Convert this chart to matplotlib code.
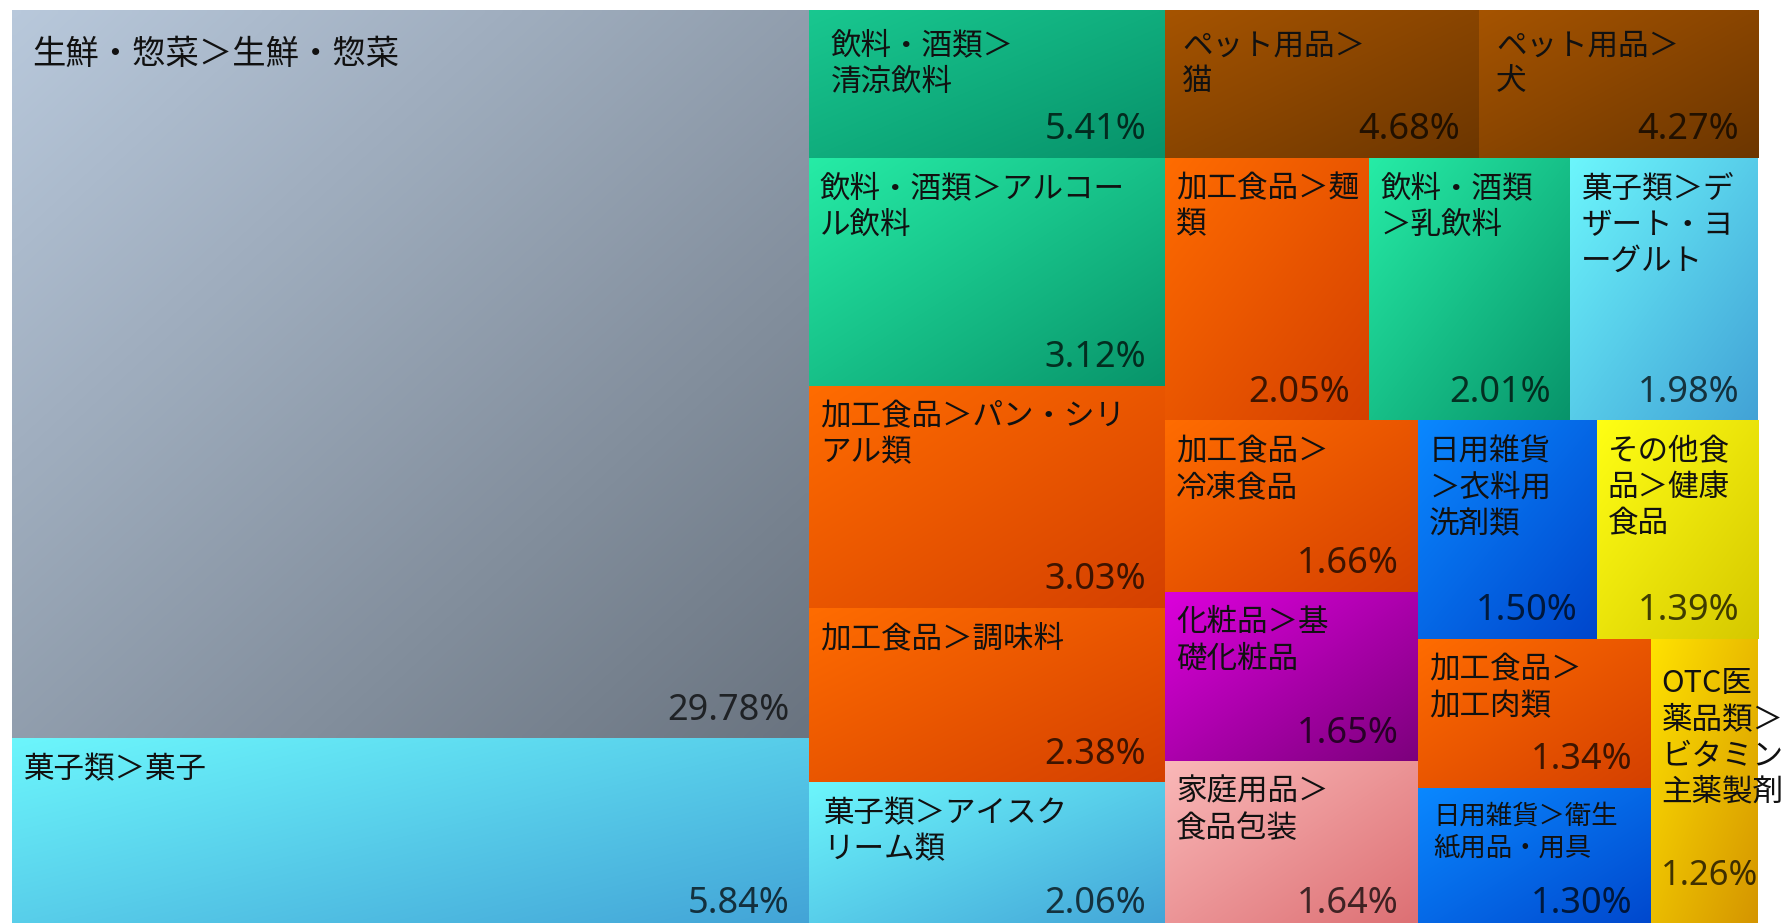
import numpy as np
import matplotlib.pyplot as plt
from matplotlib.colors import LinearSegmentedColormap

plt.rcParams['font.family'] = ['Noto Sans CJK JP', 'DejaVu Sans']

# tile captions (line breaks as wrapped inside each tile)
labels = [
    '生鮮・惣菜＞生鮮・惣菜',
    '菓子類＞菓子',
    '飲料・酒類＞\n清涼飲料',
    'ペット用品＞\n猫',
    'ペット用品＞\n犬',
    '飲料・酒類＞アルコー\nル飲料',
    '加工食品＞パン・シリ\nアル類',
    '加工食品＞調味料',
    '菓子類＞アイスク\nリーム類',
    '加工食品＞麺\n類',
    '飲料・酒類\n＞乳飲料',
    '菓子類＞デ\nザート・ヨ\nーグルト',
    '加工食品＞\n冷凍食品',
    '化粧品＞基\n礎化粧品',
    '家庭用品＞\n食品包装',
    '日用雑貨\n＞衣料用\n洗剤類',
    'その他食\n品＞健康\n食品',
    '加工食品＞\n加工肉類',
    '日用雑貨＞衛生\n紙用品・用具',
    'OTC医\n薬品類＞\nビタミン\n主薬製剤',
]
share = [29.78, 5.84, 5.41, 4.68, 4.27, 3.12, 3.03, 2.38, 2.06, 2.05,
         2.01, 1.98, 1.66, 1.65, 1.64, 1.50, 1.39, 1.34, 1.30, 1.26]
# relative tile areas
tile_size = [581, 154, 52.9, 46.5, 41.4, 81.2, 79.1, 62.3, 53.2, 53.6,
             52.8, 49.4, 43.3, 42.9, 43.1, 39.1, 35.2, 34.7, 33.6, 31.2]
# strips of the squarified layout: (direction, number of tiles)
strips = [('col', 2), ('row', 3), ('col', 4), ('row', 3),
          ('col', 3), ('row', 2), ('col', 2), ('col', 1)]

palette = {
    '生鮮・惣菜': ('#b8c8db', '#6a7480'),
    '菓子類': ('#6cf6fc', '#42a2d6'),
    '飲料・酒類': ('#26eca6', '#08946a'),
    'ペット用品': ('#a65400', '#6c3600'),
    '加工食品': ('#ff6c00', '#d44000'),
    '日用雑貨': ('#0a88ff', '#0046cc'),
    'その他食品': ('#ffff14', '#d6c800'),
    '化粧品': ('#dc00dc', '#7c007c'),
    '家庭用品': ('#fab8b8', '#dc6e72'),
    'OTC医薬品類': ('#ffe200', '#d49400'),
}
tile_colors = {2: ('#19c890', '#07926a')}

# caption offsets (px from the tile's top-left corner, to first line centre)
name_pad = {0: (20, 44), 2: (22, 36), 3: (17, 36), 4: (17, 36),
            8: (14, 31), 19: (10, 44), 18: (15, 28)}
name_size = {0: 24, 18: 19}
value_pad = {19: (10, 56)}


def layout(sizes, strips, x, y, w, h):
    rects = []
    rest = sum(sizes)
    i = 0
    for direction, n in strips:
        chunk = sizes[i:i + n]
        s = sum(chunk)
        if direction == 'col':
            sw = w * s / rest
            yy = y
            for v in chunk:
                hh = h * v / s
                rects.append((x, yy, sw, hh))
                yy += hh
            x += sw
            w -= sw
        else:
            sh = h * s / rest
            xx = x
            for v in chunk:
                ww = w * v / s
                rects.append((xx, y, ww, sh))
                xx += ww
            y += sh
            h -= sh
        rest -= s
        i += n
    return rects


W, H = 1746, 922
fig = plt.figure(figsize=(17.91, 9.23), dpi=100)
ax = fig.add_axes([12 / 1791, (923 - 932) / 923, W / 1791, H / 923])

u = np.linspace(0, 1, 128)
grad = 0.5 * (u[None, :] + u[:, None])

rects = layout(tile_size, strips, 0, 0, W, H)
for k, (x, y, w, h) in enumerate(rects):
    group = labels[k].replace('\n', '').split('＞')[0]
    cmap = LinearSegmentedColormap.from_list(group, tile_colors.get(k, palette[group]))
    ax.imshow(grad, cmap=cmap, vmin=0, vmax=1, extent=(x, x + w, y + h, y),
              interpolation='bilinear', aspect='auto', zorder=1)

    dx, dy = name_pad.get(k, (11, 31))
    fs = name_size.get(k, 22)
    ax.text(x + dx, y + dy - fs * 0.72, labels[k], ha='left', va='top',
            fontsize=fs, color='#111111', linespacing=1.22, zorder=3)

    pct = '{:.2f}%'.format(share[k])
    if k in value_pad:
        vx, vy = value_pad[k]
        ax.text(x + vx, y + h - vy, pct, ha='left', va='center', fontsize=25,
                color='black', alpha=0.72, family=['Noto Sans', 'DejaVu Sans'],
                zorder=3)
    else:
        ax.text(x + w - 19, y + h - 28, pct, ha='right', va='center',
                fontsize=26, color='black', alpha=0.72,
                family=['Noto Sans', 'DejaVu Sans'], zorder=3)

ax.set_xlim(0, W)
ax.set_ylim(H, 0)
ax.axis('off')

fig.savefig('out.png', dpi=100, facecolor='white')
